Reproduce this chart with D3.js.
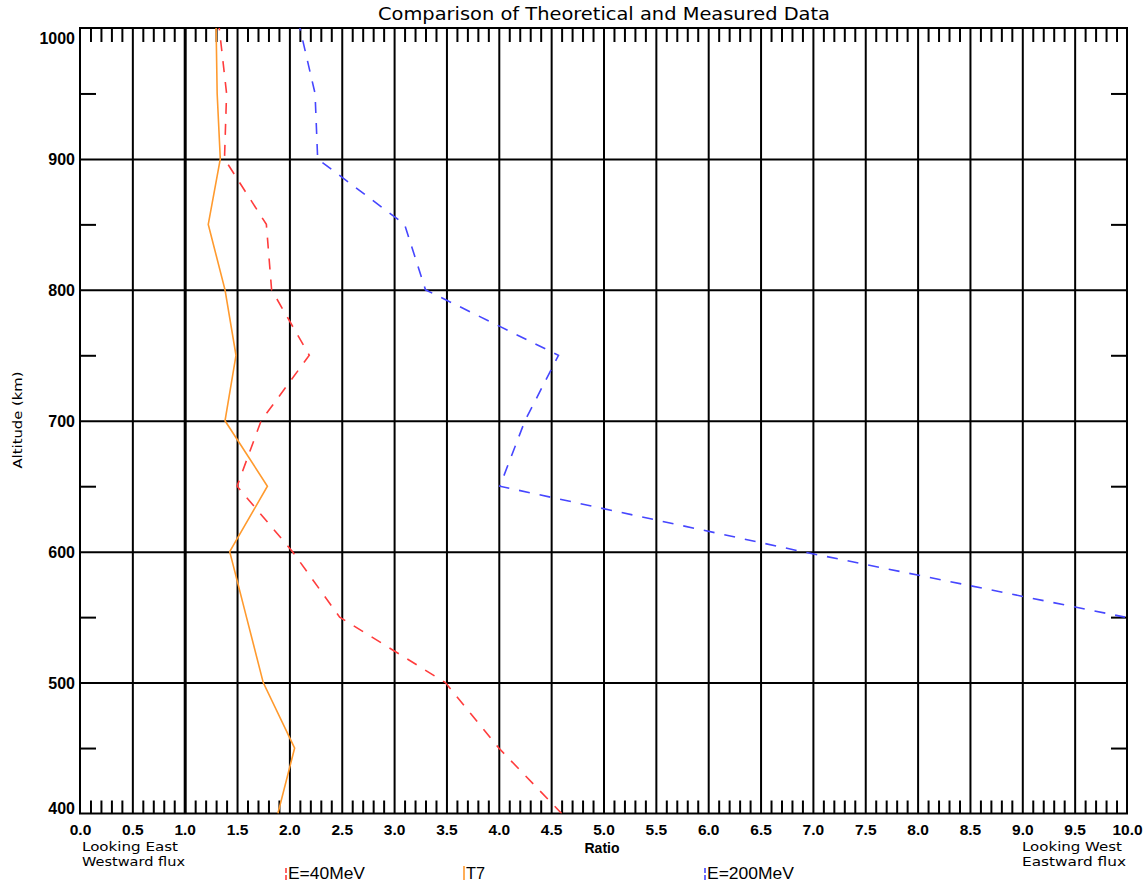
<!DOCTYPE html>
<html>
<head>
<meta charset="utf-8">
<script src="https://cdn.jsdelivr.net/npm/d3@7"></script>
<style>
  html, body { margin: 0; padding: 0; background: #fff; }
  svg { display: block; }
</style>
</head>
<body>
<svg id="chart" width="1148" height="884"></svg>
<script>
// ---------------- data ----------------
const altitudes = [1000, 950, 900, 850, 800, 750, 700, 650, 600, 550, 500, 450, 400];
const ratioE40  = [1.33, 1.40, 1.38, 1.78, 1.83, 2.19, 1.73, 1.50, 2.03, 2.48, 3.49, 4.00, 4.60];
const ratioT7   = [1.30, 1.31, 1.34, 1.225, 1.385, 1.49, 1.385, 1.79, 1.43, 1.59, 1.75, 2.05, 1.89];
const altitudesE200 = [1000, 950, 900, 850, 800, 750, 700, 650, 600, 550];
const ratioE200 = [2.10, 2.245, 2.27, 3.10, 3.30, 4.57, 4.25, 4.01, 6.90, 9.98];
const seriesNames = ["E=40MeV", "T7", "E=200MeV"];
const xTickValues = [0, 0.5, 1, 1.5, 2, 2.5, 3, 3.5, 4, 4.5, 5, 5.5, 6, 6.5, 7, 7.5, 8, 8.5, 9, 9.5, 10];
const yTickValues = [400, 500, 600, 700, 800, 900, 1000];
const yMinorValues = [450, 550, 650, 750, 850, 950];
const titleText = "Comparison of Theoretical and Measured Data";
const xTitle = "Ratio";
const yTitle = "Altitude (km)";
const leftNote = ["Looking East", "Westward flux"];
const rightNote = ["Looking West", "Eastward flux"];

// ---------------- layout ----------------
const L = 80, R = 1127, T = 28, B = 813.5;
const svg = d3.select("#chart");
const x = d3.scaleLinear().domain([0, 10]).range([L, R]);
const y = d3.scaleLinear().domain([400, 1000]).range([B, T]);

svg.append("rect").attr("width", 1148).attr("height", 884).attr("fill", "#fff");

svg.append("defs").append("clipPath").attr("id", "plotclip")
  .append("rect").attr("x", L).attr("y", T).attr("width", R - L).attr("height", B - T);

// gridlines (vertical via axis)
const gx = svg.append("g").attr("transform", `translate(0,${B})`)
  .call(d3.axisBottom(x).tickValues(xTickValues.filter(v => v > 0 && v < 10))
    .tickSize(-(B - T)).tickFormat(""));
gx.select(".domain").remove();
gx.selectAll("line").attr("stroke", "#000").attr("stroke-width", d => d === 1 ? 3 : 2);

const gy = svg.append("g").attr("transform", `translate(${L},0)`)
  .call(d3.axisLeft(y).tickValues(yTickValues.filter(v => v > 400 && v < 1000))
    .tickSize(-(R - L)).tickFormat(""));
gy.select(".domain").remove();
gy.selectAll("line").attr("stroke", "#000").attr("stroke-width", 2);

// minor ticks on x (top and bottom)
const xMinor = d3.range(0, 101).filter(i => i % 5 !== 0).map(i => i / 10);
const gxb = svg.append("g").attr("transform", `translate(0,${B})`)
  .call(d3.axisTop(x).tickValues(xMinor).tickSize(13).tickFormat(""));
gxb.select(".domain").remove();
gxb.selectAll("line").attr("stroke", "#000").attr("stroke-width", 2);
const gxt = svg.append("g").attr("transform", `translate(0,${T})`)
  .call(d3.axisBottom(x).tickValues(xMinor).tickSize(14).tickFormat(""));
gxt.select(".domain").remove();
gxt.selectAll("line").attr("stroke", "#000").attr("stroke-width", 2);

// minor ticks on y (left and right)
const gyl = svg.append("g").attr("transform", `translate(${L},0)`)
  .call(d3.axisRight(y).tickValues(yMinorValues).tickSize(16).tickFormat(""));
gyl.select(".domain").remove();
gyl.selectAll("line").attr("stroke", "#000").attr("stroke-width", 2);
const gyr = svg.append("g").attr("transform", `translate(${R},0)`)
  .call(d3.axisLeft(y).tickValues(yMinorValues).tickSize(16).tickFormat(""));
gyr.select(".domain").remove();
gyr.selectAll("line").attr("stroke", "#000").attr("stroke-width", 2);

// border
svg.append("rect").attr("x", L).attr("y", T).attr("width", R - L).attr("height", B - T)
  .attr("fill", "none").attr("stroke", "#000").attr("stroke-width", 2);

// tick labels
const xl = svg.append("g").attr("transform", `translate(0,${B})`)
  .call(d3.axisBottom(x).tickValues(xTickValues).tickSize(0).tickPadding(0).tickFormat(d3.format(".1f")));
xl.select(".domain").remove();
xl.selectAll("text").attr("dy", null).attr("y", 21.5)
  .attr("font-family", "Liberation Sans, Arial, sans-serif").attr("font-weight", "bold")
  .attr("font-size", 15.5).attr("fill", "#000");

const yl = svg.append("g").attr("transform", `translate(${L},0)`)
  .call(d3.axisLeft(y).tickValues(yTickValues).tickSize(0).tickPadding(5).tickFormat(d3.format("d")));
yl.select(".domain").remove();
yl.selectAll("text").attr("dy", d => d === 1000 ? "0.95em" : d === 400 ? "0.0em" : "0.35em")
  .attr("font-family", "Liberation Sans, Arial, sans-serif").attr("font-weight", "bold")
  .attr("font-size", 16).attr("fill", "#000");

// series
const plot = svg.append("g").attr("clip-path", "url(#plotclip)");
const line = d3.line().x(d => x(d[0])).y(d => y(d[1]));
const e40 = altitudes.map((a, i) => [ratioE40[i], a]);
const t7 = altitudes.map((a, i) => [ratioT7[i], a]);
const e200 = altitudesE200.map((a, i) => [ratioE200[i], a]);

const colors = { red: "#ff3c3c", orange: "#ff9a2e", blue: "#4646ff" };
const dashOn = 11, dashOff = 10, period = dashOn + dashOff;
function dashed(data, color) {
  const p = plot.append("path").datum(data).attr("d", line).attr("fill", "none")
    .attr("stroke", color).attr("stroke-width", 1.6)
    .attr("stroke-dasharray", `${dashOn},${dashOff}`);
  // shift the pattern so the line ends inside a dash (as in the reference)
  const len = p.node().getTotalLength();
  const off = ((dashOn - 1 - (len % period)) % period + period) % period;
  p.attr("stroke-dashoffset", off);
  return p;
}
dashed(e40, colors.red);
dashed(e200, colors.blue);
plot.append("path").datum(t7).attr("d", line).attr("fill", "none")
  .attr("stroke", colors.orange).attr("stroke-width", 1.6);

// titles
const fontMain = "DejaVu Sans, Verdana, sans-serif";
svg.append("text").attr("x", 604).attr("y", 20).attr("text-anchor", "middle")
  .attr("font-family", fontMain).attr("font-size", 17).attr("textLength", 452)
  .attr("lengthAdjust", "spacingAndGlyphs").text(titleText);

svg.append("text").attr("x", 602).attr("y", 853).attr("text-anchor", "middle")
  .attr("font-family", "Liberation Sans, Arial, sans-serif").attr("font-weight", "bold")
  .attr("font-size", 14).text(xTitle);

svg.append("text").attr("transform", "translate(22,420) rotate(-90)").attr("text-anchor", "middle")
  .attr("font-family", fontMain).attr("font-size", 13).attr("textLength", 97)
  .attr("lengthAdjust", "spacingAndGlyphs").text(yTitle);

const noteFont = fontMain;
const noteSize = 12;
svg.append("text").attr("x", 82).attr("y", 851).attr("font-family", noteFont).attr("font-size", noteSize)
  .attr("textLength", 96).attr("lengthAdjust", "spacingAndGlyphs").text(leftNote[0]);
svg.append("text").attr("x", 82).attr("y", 865.5).attr("font-family", noteFont).attr("font-size", noteSize)
  .attr("textLength", 103).attr("lengthAdjust", "spacingAndGlyphs").text(leftNote[1]);
svg.append("text").attr("x", 1022).attr("y", 851).attr("font-family", noteFont).attr("font-size", noteSize)
  .attr("textLength", 100).attr("lengthAdjust", "spacingAndGlyphs").text(rightNote[0]);
svg.append("text").attr("x", 1022).attr("y", 865.5).attr("font-family", noteFont).attr("font-size", noteSize)
  .attr("textLength", 104).attr("lengthAdjust", "spacingAndGlyphs").text(rightNote[1]);

// legend
const legendX = [286, 464, 705];
const legendW = [77, 19, 87];
const legendColors = [colors.red, colors.orange, colors.blue];
seriesNames.forEach((name, i) => {
  const g = svg.append("g");
  g.append("line").attr("x1", legendX[i]).attr("x2", legendX[i])
    .attr("y1", i === 1 ? 866 : 868).attr("y2", 880)
    .attr("stroke", legendColors[i]).attr("stroke-width", 1.6)
    .attr("stroke-dasharray", i === 1 ? null : "5,2");
  g.append("text").attr("x", legendX[i] + 2).attr("y", 878.5)
    .attr("font-family", "Liberation Sans, Arial, sans-serif").attr("font-size", 16)
    .attr("textLength", legendW[i]).attr("lengthAdjust", "spacingAndGlyphs").text(name);
});
</script>
</body>
</html>
